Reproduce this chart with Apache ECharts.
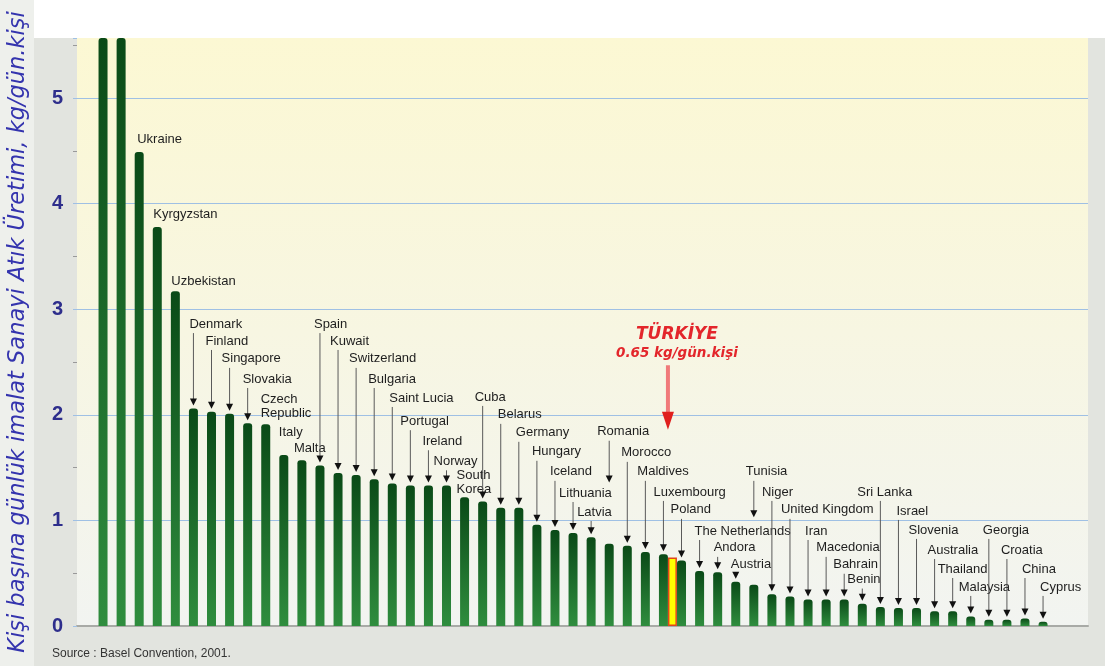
<!DOCTYPE html>
<html>
<head>
<meta charset="utf-8">
<script src="https://cdn.jsdelivr.net/npm/echarts@6/dist/echarts.min.js"></script>
<style>
html, body { margin: 0; padding: 0; background: #fff; }
#chart { width: 1105px; height: 666px; }
</style>
</head>
<body>
<div id="chart"></div>
<script>
// ülkeler (ilk iki çubuk etiketsiz, grafiğin dışına taşıyor)
var countries = ['', '', 'Ukraine', 'Kyrgyzstan', 'Uzbekistan', 'Denmark', 'Finland', 'Singapore', 'Slovakia',
	'Czech\nRepublic', 'Italy', 'Malta', 'Spain', 'Kuwait', 'Switzerland', 'Bulgaria', 'Saint Lucia', 'Portugal',
	'Ireland', 'Norway', 'South\nKorea', 'Cuba', 'Belarus', 'Germany', 'Hungary', 'Iceland', 'Lithuania', 'Latvia',
	'Romania', 'Morocco', 'Maldives', 'Luxembourg', 'Poland', 'The Netherlands', 'Andora', 'Austria', 'Tunisia',
	'Niger', 'United Kingdom', 'Iran', 'Macedonia', 'Bahrain', 'Benin', 'Sri Lanka', 'Israel', 'Slovenia',
	'Australia', 'Thailand', 'Malaysia', 'Georgia', 'Croatia', 'China', 'Cyprus'];
// kg/gün.kişi
var waste = [9.0, 7.0, 4.49, 3.78, 3.17, 2.06, 2.03, 2.01, 1.92, 1.91, 1.62, 1.57, 1.52, 1.45, 1.43, 1.39, 1.35,
	1.33, 1.33, 1.33, 1.22, 1.18, 1.12, 1.12, 0.96, 0.91, 0.88, 0.84, 0.78, 0.76, 0.70, 0.68, 0.62, 0.52, 0.51,
	0.42, 0.39, 0.30, 0.28, 0.25, 0.25, 0.25, 0.21, 0.18, 0.17, 0.17, 0.14, 0.14, 0.09, 0.06, 0.06, 0.07, 0.04];
var turkeyName = 'TÜRKİYE';
var turkeyNote = '0.65 kg/gün.kişi';
var turkeyValue = 0.65;
var turkeyNextTo = 'Luxembourg';
var yTicks = [0, 1, 2, 3, 4, 5];
var yTitle = 'Kişi başına günlük imalat Sanayi Atık Üretimi, kg/gün.kişi';
var sourceText = 'Source : Basel Convention, 2001.';

// etiket yerleşimi (eksen birimi cinsinden yükseklik, px cinsinden yatay kayma)
var labelLevel = [null, null, 4.61, 3.90, 3.26, 2.86, 2.70, 2.53, 2.34, 2.08, 1.83, 1.68, 2.86, 2.70, 2.53, 2.34,
	2.16, 1.94, 1.75, 1.56, 1.36, 2.17, 2.00, 1.83, 1.65, 1.46, 1.26, 1.08, 1.84, 1.64, 1.46, 1.27, 1.10, 0.90,
	0.74, 0.58, 1.46, 1.27, 1.10, 0.90, 0.74, 0.58, 0.44, 1.27, 1.09, 0.91, 0.72, 0.54, 0.37, 0.91, 0.72, 0.54, 0.37];
var labelShift = [0, 0, -2, -4, -4, -4, -6, -8, -5, -5, -5, -8, -6, -8, -7, -6, -3, -10, -6, -13, -8, -8, -3, -3,
	-5, -5, -14, -14, -12, -6, -8, -10, -11, -5, -4, -5, -8, -10, -9, -3, -10, -11, -15, -23, -2, -8, -7, -15, -12,
	-6, -6, -3, -3];
var noArrow = ['Ukraine', 'Kyrgyzstan', 'Uzbekistan', 'Czech\nRepublic', 'Italy', 'Malta', 'South\nKorea'];
var arrowStop = { 'Romania': 1.36, 'Tunisia': 1.03 }; // bu oklar çubuğa kadar inmiyor
var turkeyLevels = [2.76, 2.58, 2.47, 1.86]; // başlık, not, ok başı, ok ucu

var barW = 9;
var yMax = 5.57;

var dom = document.getElementById('chart');
var myChart = echarts.init(dom);

var labelData = [];
for (var i = 0; i < countries.length; i++) {
	var name = countries[i];
	if (labelLevel[i] == null) continue;
	var stop = arrowStop[name] != null ? arrowStop[name] : -1;
	var arrow = noArrow.indexOf(name) >= 0 ? 0 : 1;
	labelData.push([i, waste[i], labelLevel[i], labelShift[i], stop, arrow]);
}

var turkeyData = countries.map(function (c) {
	return c === turkeyNextTo ? turkeyValue : '-';
});
var turkeyIdx = countries.indexOf(turkeyNextTo);

function renderLabel(params, api) {
	var i = api.value(0);
	var bar = api.coord([i, api.value(1)]);
	var at = api.coord([i, api.value(2)]);
	var cx = bar[0] - barW / 2; // ana çubuğun ortası
	var name = countries[i];
	var lines = name.split('\n').length;
	var children = [{
		type: 'text',
		style: {
			text: name,
			x: cx + api.value(3),
			y: at[1],
			verticalAlign: 'middle',
			font: '13px "Liberation Sans", Arial, sans-serif',
			lineHeight: 14,
			fill: '#1e1e1e'
		}
	}];
	if (api.value(5) === 1) {
		var y0 = at[1] + lines * 7 + 2;
		var y1 = api.value(4) >= 0 ? api.coord([i, api.value(4)])[1] : bar[1] - 3;
		children.push({
			type: 'line',
			shape: { x1: cx, y1: y0, x2: cx, y2: y1 - 5 },
			style: { stroke: '#5a5a5a', lineWidth: 1 }
		});
		children.push({
			type: 'polygon',
			shape: { points: [[cx - 3.5, y1 - 7], [cx + 3.5, y1 - 7], [cx, y1]] },
			style: { fill: '#111' }
		});
	}
	return { type: 'group', children: children };
}

function renderTurkey(params, api) {
	var i = api.value(0);
	var cx = api.coord([i, 0])[0];
	var t1 = api.coord([i, turkeyLevels[0]])[1];
	var t2 = api.coord([i, turkeyLevels[1]])[1];
	var a0 = api.coord([i, turkeyLevels[2]])[1];
	var a1 = api.coord([i, turkeyLevels[3]])[1];
	return {
		type: 'group',
		children: [{
			type: 'text',
			style: { text: turkeyName, x: cx + 9, y: t1, align: 'center', verticalAlign: 'middle', font: 'italic bold 17px "DejaVu Sans", sans-serif', fill: '#e3262b' }
		}, {
			type: 'text',
			style: { text: turkeyNote, x: cx + 9, y: t2, align: 'center', verticalAlign: 'middle', font: 'italic bold 13.5px "DejaVu Sans", sans-serif', fill: '#e3262b' }
		}, {
			type: 'rect',
			shape: { x: cx - 2, y: a0, width: 4, height: a1 - a0 - 16 },
			style: { fill: '#f07a7a' }
		}, {
			type: 'polygon',
			shape: { points: [[cx - 6, a1 - 18], [cx + 6, a1 - 18], [cx, a1]] },
			style: { fill: '#e0201e' }
		}]
	};
}

var option = {
	backgroundColor: '#e2e4df',
	animation: false,
	graphic: [{
		type: 'rect', z: -10,
		shape: { x: 0, y: 0, width: 1105, height: 38 },
		style: { fill: '#ffffff' }
	}, {
		type: 'rect', z: -9,
		shape: { x: 0, y: 0, width: 34, height: 666 },
		style: { fill: '#eef0ec' }
	}, {
		type: 'text', z: 5,
		x: 18, y: 332, rotation: Math.PI / 2,
		style: {
			text: yTitle, align: 'center', verticalAlign: 'middle',
			font: 'italic 22.5px "DejaVu Sans", sans-serif', fill: '#3434ae'
		}
	}, {
		type: 'text', z: 5,
		x: 52, y: 654,
		style: {
			text: sourceText, verticalAlign: 'middle',
			font: '12px "Liberation Sans", Arial, sans-serif', fill: '#333'
		}
	}],
	grid: [{
		left: 77, right: 17, top: 38, bottom: 40,
		show: true, borderWidth: 0,
		backgroundColor: new echarts.graphic.LinearGradient(0, 0, 0, 1, [
			{ offset: 0, color: '#fcf8d3' },
			{ offset: 1, color: '#f2f4f1' }
		])
	}, {
		left: 98.5, right: 48.4, top: 38, bottom: 40
	}],
	xAxis: [{
		gridIndex: 0, type: 'value', min: 0, max: 1,
		axisLine: { show: true, lineStyle: { color: '#a8aaa6', width: 2 } },
		axisTick: { show: false }, axisLabel: { show: false }, splitLine: { show: false }
	}, {
		gridIndex: 1, type: 'category', data: countries, show: false
	}],
	yAxis: [{
		gridIndex: 0, type: 'value', min: 0, max: yMax, interval: 1,
		axisLine: { show: false },
		axisTick: { show: true, length: 4, lineStyle: { color: '#9fc0e4' } },
		minorTick: { show: true, splitNumber: 2, length: 4, lineStyle: { color: '#999' } },
		axisLabel: {
			margin: 14,
			fontSize: 20, fontWeight: 'bold', color: '#2e2e8c',
			fontFamily: '"Liberation Sans", Arial, sans-serif',
			formatter: function (v) { return yTicks.indexOf(v) >= 0 ? String(v) : ''; }
		},
		splitLine: { show: true, showMinLine: false, showMaxLine: false, lineStyle: { color: '#9fc0e4', width: 1.2 } }
	}, {
		gridIndex: 1, type: 'value', min: 0, max: yMax, show: false
	}],
	series: [{
		type: 'bar',
		xAxisIndex: 1, yAxisIndex: 1,
		data: waste,
		barWidth: barW,
		barGap: '0%',
		itemStyle: {
			borderRadius: [3, 3, 0, 0],
			color: new echarts.graphic.LinearGradient(0, 0, 0, 1, [
				{ offset: 0, color: '#0a4a17' },
				{ offset: 1, color: '#2f8d3e' }
			])
		}
	}, {
		type: 'bar',
		xAxisIndex: 1, yAxisIndex: 1,
		data: turkeyData,
		barWidth: barW,
		barGap: '0%',
		itemStyle: { color: '#ffff00', borderColor: '#e0461c', borderWidth: 1.5 }
	}, {
		type: 'custom',
		xAxisIndex: 1, yAxisIndex: 1,
		data: labelData,
		encode: { x: 0, y: 1 },
		clip: false, z: 5,
		renderItem: renderLabel
	}, {
		type: 'custom',
		xAxisIndex: 1, yAxisIndex: 1,
		data: [[turkeyIdx, turkeyValue]],
		encode: { x: 0, y: 1 },
		clip: false, z: 5,
		renderItem: renderTurkey
	}]
};
myChart.setOption(option);
</script>
</body>
</html>
